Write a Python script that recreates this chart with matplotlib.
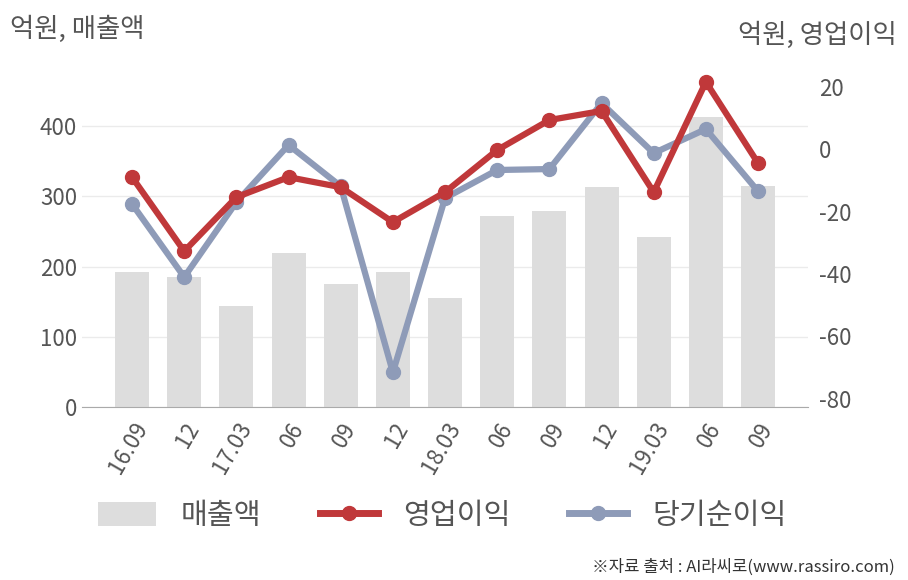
import matplotlib
matplotlib.use("Agg")
import matplotlib.pyplot as plt
from matplotlib.patches import Patch
from matplotlib.lines import Line2D

plt.rcParams['font.family'] = ['Noto Sans CJK KR', 'DejaVu Sans']
plt.rcParams['axes.unicode_minus'] = False

categories = ["16.09", "12", "17.03", "06", "09", "12", "18.03", "06", "09", "12", "19.03", "06", "09"]
sales = [192, 185, 144, 219, 175, 192, 155, 272, 279, 313, 242, 413, 315]
op_profit = [-9.0, -32.7, -15.4, -9.0, -12.2, -23.4, -13.8, -0.3, 9.3, 12.2, -13.8, 21.5, -4.5]
net_income = [-17.6, -41.0, -17.0, 1.3, -11.9, -71.5, -15.7, -6.7, -6.4, 14.7, -1.3, 6.4, -13.5]

bar_color = "#DDDDDD"
red = "#C0383A"
blue = "#8E9BB8"
txt = "#555555"

fig = plt.figure(figsize=(9.08, 5.8), dpi=100)
ax = fig.add_axes([0.0903, 0.2983, 0.7997, 0.6051])
x = list(range(len(categories)))
ax.bar(x, sales, width=0.65, color=bar_color, zorder=2)
ax.set_ylim(0, 500)
ax.set_xlim(-0.96, 12.96)
ax.set_yticks([0, 100, 200, 300, 400])
ax.yaxis.grid(True, color="#EBEBEB", linewidth=1, zorder=0)
ax.set_axisbelow(True)
for s in ["top", "left", "right"]:
    ax.spines[s].set_visible(False)
ax.spines["bottom"].set_color("#AAAAAA")
ax.tick_params(axis="both", length=0, labelsize=16, colors=txt)
ax.set_xticks(x)
ax.set_xticklabels(categories, rotation=60, ha="right", rotation_mode="anchor")
ax.tick_params(axis="x", pad=8)

ax2 = ax.twinx()
ax2.set_ylim(-82.6, 29.8)
ax2.set_yticks([20, 0, -20, -40, -60, -80])
for s in ["top", "left", "right", "bottom"]:
    ax2.spines[s].set_visible(False)
ax2.tick_params(axis="y", length=0, labelsize=16, colors=txt, pad=8)
ax2.plot(x, net_income, color=blue, linewidth=4.5, marker="o", markersize=10, zorder=3)
ax2.plot(x, op_profit, color=red, linewidth=4.5, marker="o", markersize=10, zorder=4)

fig.text(0.011, 0.95, "억원, 매출액", fontsize=19, color=txt, ha="left", va="center")
fig.text(0.988, 0.94, "억원, 영업이익", fontsize=19, color=txt, ha="right", va="center")

handles = [
    Patch(facecolor=bar_color, edgecolor="none"),
    Line2D([0], [0], color=red, linewidth=5, marker="o", markersize=10),
    Line2D([0], [0], color=blue, linewidth=5, marker="o", markersize=10),
]
fig.legend(handles, ["매출액", "영업이익", "당기순이익"], loc="center", bbox_to_anchor=(0.487, 0.11),
           ncol=3, frameon=False, fontsize=21, handlelength=2.0, handleheight=0.85,
           columnspacing=2.0, handletextpad=0.85, labelcolor=txt)

fig.text(0.985, 0.022, "※자료 출처 : AI라씨로(www.rassiro.com)", fontsize=12, color="#333333",
         ha="right", va="center")

fig.savefig("out.png", dpi=100)
